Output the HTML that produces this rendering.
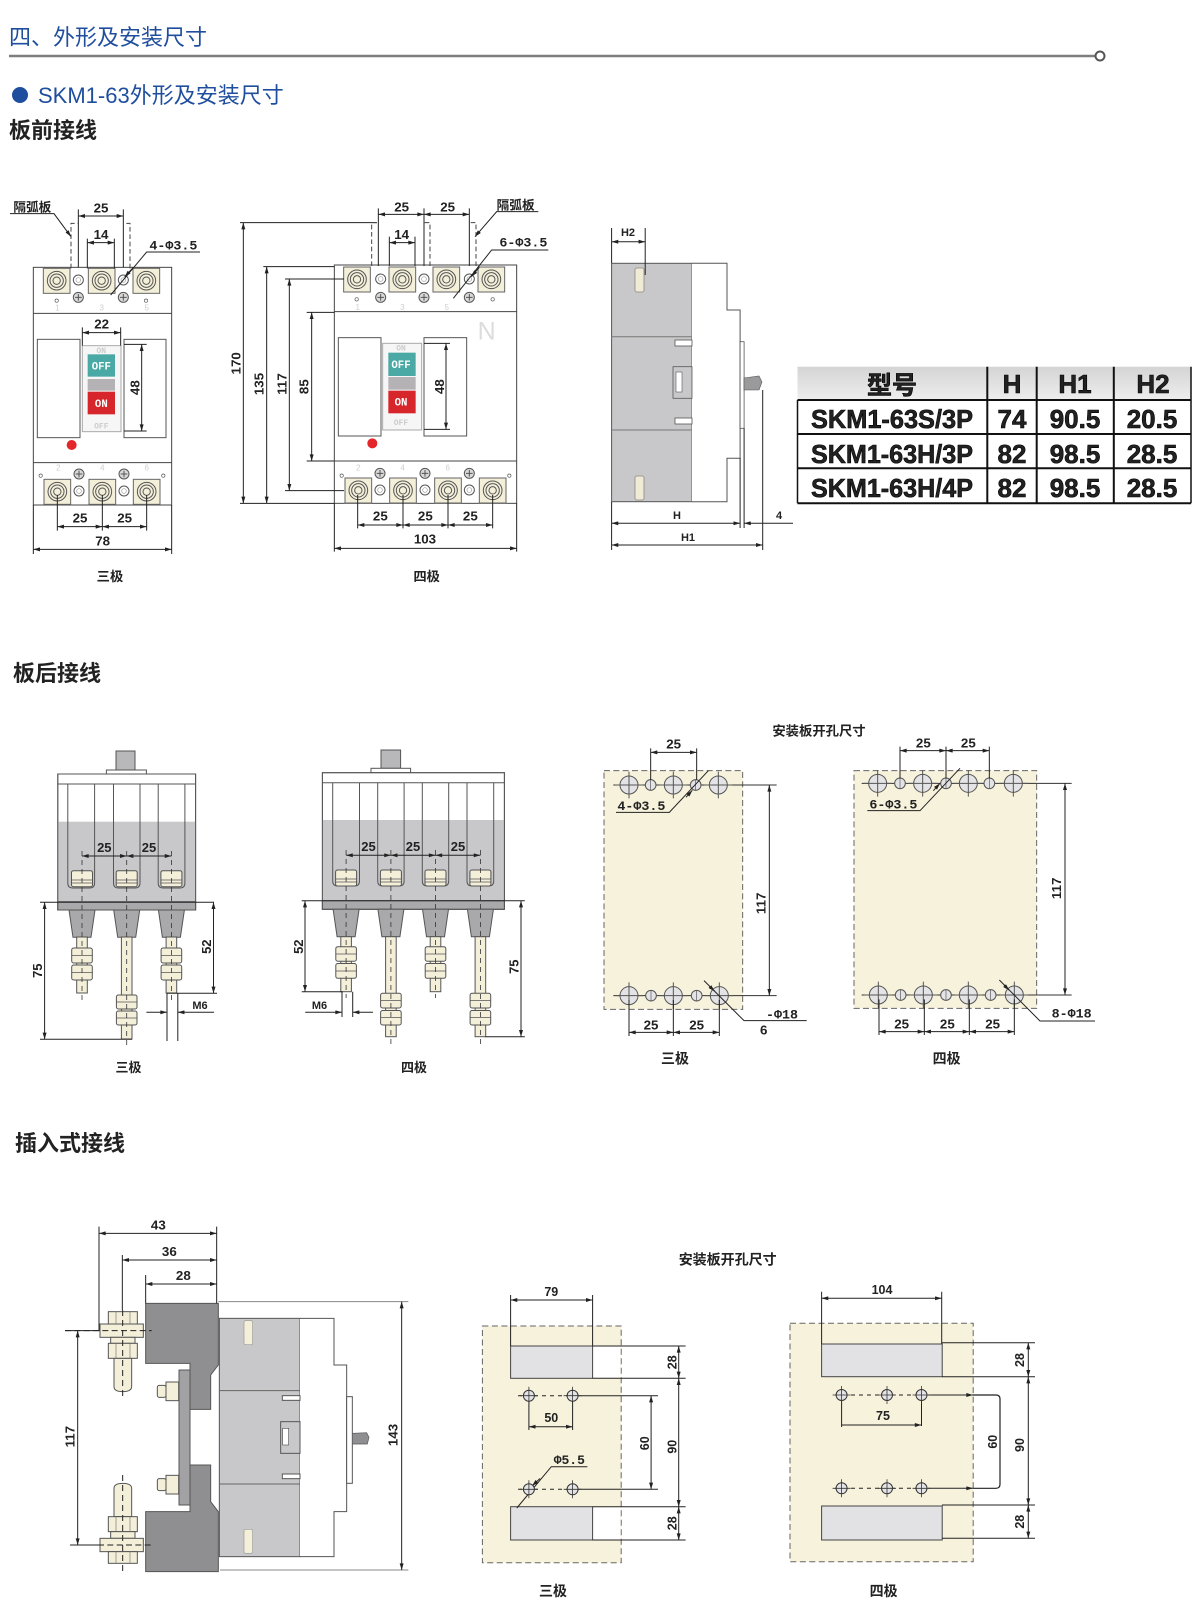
<!DOCTYPE html>
<html><head><meta charset="utf-8">
<style>
html,body{margin:0;padding:0;background:#fff;}
body{width:1200px;height:1619px;overflow:hidden;}
svg{display:block;}
.l1{stroke:#222;stroke-width:1;fill:none}
.l3{stroke:#222;stroke-width:3;fill:none}
.m1{marker-start:url(#a);marker-end:url(#a)}
.e1{marker-end:url(#a)}
.s1{marker-start:url(#a)}
.m3{marker-start:url(#b);marker-end:url(#b)}
.e3{marker-end:url(#b)}
.s3{marker-start:url(#b)}
.tx{font-family:"Liberation Sans",Arial,sans-serif;font-weight:bold;fill:#222}
.cj{font-family:"Liberation Sans","Noto Sans CJK SC","WenQuanYi Zen Hei",sans-serif;font-weight:bold;fill:#222}
.mo{font-family:"Liberation Mono","DejaVu Sans Mono",monospace;font-weight:bold;fill:#222}
.cr{fill:#f3efd9;stroke:#555}
</style></head>
<body>
<svg width="1200" height="1619" viewBox="0 0 1200 1619" xmlns="http://www.w3.org/2000/svg">
<defs>
<marker id="a" viewBox="0 0 10 6" refX="10" refY="3" markerWidth="7" markerHeight="4" orient="auto-start-reverse" markerUnits="userSpaceOnUse"><path d="M0,0L10,3L0,6z" fill="#222"/></marker>
<marker id="b" viewBox="0 0 10 6" refX="10" refY="3" markerWidth="21" markerHeight="12" orient="auto-start-reverse" markerUnits="userSpaceOnUse"><path d="M0,0L10,3L0,6z" fill="#222"/></marker>
<linearGradient id="hg" x1="0" y1="0" x2="0" y2="1"><stop offset="0" stop-color="#d4d4d4"/><stop offset="1" stop-color="#eeeeee"/></linearGradient>
<g id="tm"><rect x="-40" y="-37" width="80" height="75" fill="#f3efd9" stroke="#666" stroke-width="3"/><circle r="28" fill="none" stroke="#555" stroke-width="3"/><circle r="20" fill="none" stroke="#555" stroke-width="3"/><circle r="11" fill="#f3efd9" stroke="#555" stroke-width="3"/></g>
<g id="sh"><circle r="15" fill="#fff" stroke="#555" stroke-width="3"/><circle r="7" fill="none" stroke="#999" stroke-width="2"/></g>
<g id="cx"><circle r="15" fill="#d9d9d9" stroke="#555" stroke-width="3"/><path d="M-10,0H10M0,-10V10" stroke="#555" stroke-width="3"/></g>
<g id="hb"><circle r="27" fill="#e4e4e6" stroke="#555" stroke-width="3"/><path d="M-42,0H42M0,-40V40" stroke="#555" stroke-width="3"/></g>
<g id="hs"><circle r="16" fill="#e4e4e6" stroke="#555" stroke-width="3"/><path d="M0,-16V16" stroke="#555" stroke-width="2"/></g>
<g id="hp"><circle r="5.5" fill="#e4e4e6" stroke="#333" stroke-width="1"/><path d="M-9,0H9M0,-9V9" stroke="#333" stroke-width="0.8"/></g>
</defs>

<!-- HEADER -->
<text x="9" y="45" font-size="22" fill="#1f4e9e" font-family="'Liberation Sans','Noto Sans CJK SC',sans-serif">四、外形及安装尺寸</text>
<line x1="9" y1="56" x2="1096" y2="56" stroke="#7e7e7e" stroke-width="2.5"/>
<circle cx="1100" cy="56" r="4.5" fill="#fff" stroke="#555" stroke-width="2"/>
<circle cx="20" cy="95" r="8" fill="#1f4e9e"/>
<text x="38" y="103" font-size="22" fill="#1f4e9e" font-family="'Liberation Sans','Noto Sans CJK SC',sans-serif">SKM1-63外形及安装尺寸</text>
<text x="9" y="138" font-size="22" class="cj" fill="#111">板前接线</text>

<!-- A: 3P FRONT -->
<g transform="translate(0,180) scale(0.33333)">
<rect x="100" y="262" width="415" height="713" fill="#fff" stroke="#444" stroke-width="3"/>
<path d="M100,400H515M100,848H515" stroke="#444" stroke-width="3"/>
<use href="#tm" x="170" y="302"/><use href="#tm" x="305" y="302"/><use href="#tm" x="439" y="302"/>
<use href="#sh" x="235" y="300"/><use href="#sh" x="370" y="300"/>
<use href="#cx" x="235" y="352"/><use href="#cx" x="370" y="352"/>
<circle cx="170" cy="362" r="5" fill="#fff" stroke="#555" stroke-width="2"/><circle cx="438" cy="362" r="5" fill="#fff" stroke="#555" stroke-width="2"/>
<g font-size="24" fill="#cfcfcf" text-anchor="middle" font-family="Liberation Sans"><text x="172" y="392">1</text><text x="305" y="392">3</text><text x="440" y="392">5</text><text x="175" y="872">2</text><text x="307" y="872">4</text><text x="440" y="872">6</text></g>
<rect x="112" y="478" width="128" height="295" fill="#fff" stroke="#555" stroke-width="3"/>
<rect x="372" y="478" width="126" height="295" fill="#fff" stroke="#555" stroke-width="3"/>
<g transform="translate(247,497)">
<rect width="116" height="258" fill="#f6f6f6" stroke="#aaa" stroke-width="3"/>
<rect x="16" y="26" width="82" height="67" fill="#4aa9a5"/>
<rect x="16" y="100" width="82" height="35" fill="#b4b2b4"/>
<rect x="16" y="138" width="82" height="68" fill="#d7262b"/>
<g font-family="Liberation Mono" font-weight="bold" text-anchor="middle"><text x="57" y="72" font-size="32" fill="#fff">OFF</text><text x="57" y="184" font-size="32" fill="#fff">ON</text><text x="57" y="22" font-size="24" fill="#ccc">ON</text><text x="57" y="248" font-size="24" fill="#ccc">OFF</text></g>
</g>
<circle cx="215" cy="795" r="15" fill="#e3262a"/>
<use href="#cx" x="237" y="882"/><use href="#cx" x="372" y="882"/>
<circle cx="122" cy="887" r="5" fill="#fff" stroke="#555" stroke-width="2"/><circle cx="490" cy="887" r="5" fill="#fff" stroke="#555" stroke-width="2"/>
<use href="#tm" x="172" y="935"/><use href="#tm" x="307" y="935"/><use href="#tm" x="440" y="935"/>
<use href="#sh" x="237" y="933"/><use href="#sh" x="372" y="933"/>
<g class="l3">
<path d="M247,442V497M362,442V497M372,493H440M372,753H440M172,945V1052M307,945V1052M440,945V1052M100,975V1122M515,975V1122M235,88V262M370,88V262M262,176V265M343,176V265"/>
<path d="M213,265V130H233M390,265V130H372" stroke-dasharray="14,8" stroke="#444"/>
<line x1="247" y1="458" x2="362" y2="458" class="m3"/>
<line x1="425" y1="493" x2="425" y2="753" class="m3"/>
<line x1="172" y1="1040" x2="307" y2="1040" class="m3"/>
<line x1="307" y1="1040" x2="440" y2="1040" class="m3"/>
<line x1="100" y1="1108" x2="515" y2="1108" class="m3"/>
<line x1="235" y1="108" x2="370" y2="108" class="m3"/>
<line x1="262" y1="188" x2="343" y2="188" class="m3"/>
<path d="M30,101H162L213,170" class="e3"/>
<path d="M600,216H440L332,345"/>
<path d="M400,262L374,291" class="e3"/>
</g>
<g class="tx" font-size="40" text-anchor="middle">
<text x="305" y="446">22</text>
<text transform="translate(419,623) rotate(-90)">48</text>
<text x="240" y="1028">25</text><text x="374" y="1028">25</text>
<text x="308" y="1096">78</text>
<text x="303" y="97">25</text>
<text x="303" y="177">14</text>
</g>
<text class="cj" x="40" y="95" font-size="38">隔弧板</text>
<text class="mo" x="448" y="208" font-size="40">4-Φ3.5</text>
<text class="cj" x="330" y="1203" font-size="40" text-anchor="middle">三极</text>
</g>

<!-- B: 4P FRONT -->
<g transform="translate(220,180) scale(0.33333)">
<rect x="343" y="255" width="547" height="715" fill="#fff" stroke="#444" stroke-width="3"/>
<path d="M343,395H890M343,843H890" stroke="#444" stroke-width="3"/>
<use href="#tm" x="411" y="298"/><use href="#tm" x="547" y="298"/><use href="#tm" x="679" y="298"/><use href="#tm" x="814" y="298"/>
<use href="#sh" x="482" y="297"/><use href="#sh" x="612" y="297"/><use href="#sh" x="748" y="297"/>
<use href="#cx" x="482" y="352"/><use href="#cx" x="612" y="352"/><use href="#cx" x="748" y="352"/>
<circle cx="410" cy="358" r="5" fill="#fff" stroke="#555" stroke-width="2"/><circle cx="818" cy="358" r="5" fill="#fff" stroke="#555" stroke-width="2"/>
<g font-size="24" fill="#cfcfcf" text-anchor="middle" font-family="Liberation Sans"><text x="413" y="390">1</text><text x="547" y="390">3</text><text x="680" y="390">5</text><text x="415" y="872">2</text><text x="548" y="872">4</text><text x="683" y="872">6</text></g>
<text x="800" y="478" font-size="75" fill="#dcdcdc" text-anchor="middle" font-family="Liberation Sans">N</text>
<rect x="355" y="473" width="128" height="295" fill="#fff" stroke="#555" stroke-width="3"/>
<rect x="612" y="473" width="128" height="295" fill="#fff" stroke="#555" stroke-width="3"/>
<g transform="translate(488,490)">
<rect width="117" height="260" fill="#f6f6f6" stroke="#aaa" stroke-width="3"/>
<rect x="17" y="28" width="82" height="70" fill="#4aa9a5"/>
<rect x="17" y="101" width="82" height="38" fill="#b4b2b4"/>
<rect x="17" y="142" width="82" height="68" fill="#d7262b"/>
<g font-family="Liberation Mono" font-weight="bold" text-anchor="middle"><text x="55" y="74" font-size="32" fill="#fff">OFF</text><text x="55" y="187" font-size="32" fill="#fff">ON</text><text x="55" y="22" font-size="24" fill="#ccc">ON</text><text x="55" y="245" font-size="24" fill="#ccc">OFF</text></g>
</g>
<circle cx="457" cy="790" r="15" fill="#e3262a"/>
<use href="#cx" x="480" y="880"/><use href="#cx" x="615" y="880"/><use href="#cx" x="748" y="880"/>
<circle cx="365" cy="887" r="5" fill="#fff" stroke="#555" stroke-width="2"/><circle cx="868" cy="887" r="5" fill="#fff" stroke="#555" stroke-width="2"/>
<use href="#tm" x="415" y="931"/><use href="#tm" x="549" y="931"/><use href="#tm" x="684" y="931"/><use href="#tm" x="818" y="931"/>
<use href="#sh" x="480" y="930"/><use href="#sh" x="615" y="930"/><use href="#sh" x="748" y="930"/>
<g class="l3">
<path d="M612,490H690M612,748H690M413,945V1045M549,945V1045M684,945V1045M818,945V1045M343,970V1115M890,970V1115M60,128H470M60,970H343M130,260H343M195,297H372M195,932H372M260,397H343M260,843H343M475,85V258M612,85V258M748,85V258M508,170V258M585,170V258"/>
<path d="M455,258V128H473M630,258V128H614M768,258V128H750" stroke-dasharray="14,8" stroke="#444"/>
<line x1="678" y1="490" x2="678" y2="748" class="m3"/>
<line x1="413" y1="1035" x2="549" y2="1035" class="m3"/>
<line x1="549" y1="1035" x2="684" y2="1035" class="m3"/>
<line x1="684" y1="1035" x2="818" y2="1035" class="m3"/>
<line x1="343" y1="1105" x2="890" y2="1105" class="m3"/>
<line x1="70" y1="128" x2="70" y2="970" class="m3"/>
<line x1="140" y1="260" x2="140" y2="970" class="m3"/>
<line x1="208" y1="297" x2="208" y2="932" class="m3"/>
<line x1="275" y1="397" x2="275" y2="843" class="m3"/>
<line x1="475" y1="103" x2="612" y2="103" class="m3"/>
<line x1="612" y1="103" x2="748" y2="103" class="m3"/>
<line x1="508" y1="188" x2="585" y2="188" class="m3"/>
<path d="M955,95H830L765,170" class="e3"/>
<path d="M985,210H815L700,355"/>
<path d="M778,262L754,290" class="e3"/>
</g>
<g class="tx" font-size="40" text-anchor="middle">
<text transform="translate(672,620) rotate(-90)">48</text>
<text x="481" y="1022">25</text><text x="616" y="1022">25</text><text x="751" y="1022">25</text>
<text x="615" y="1090">103</text>
<text transform="translate(62,550) rotate(-90)">170</text>
<text transform="translate(131,612) rotate(-90)">135</text>
<text transform="translate(199,612) rotate(-90)">117</text>
<text transform="translate(266,620) rotate(-90)">85</text>
<text x="545" y="94">25</text><text x="683" y="94">25</text>
<text x="545" y="177">14</text>
</g>
<text class="cj" x="830" y="88" font-size="38">隔弧板</text>
<text class="mo" x="838" y="200" font-size="40">6-Φ3.5</text>
<text class="cj" x="620" y="1203" font-size="40" text-anchor="middle">四极</text>
</g>

<!-- C: SIDE VIEW -->
<g>
<rect x="611.6" y="263.3" width="80.3" height="238.4" fill="#c8c8ca" stroke="#555" stroke-width="1"/>
<path d="M611.6,336.7H691.9M611.6,430H691.9" stroke="#777" stroke-width="1"/>
<path d="M691.9,263.3H727V310H740.1V458.3H727V501.7H691.9" fill="#fff" stroke="#555" stroke-width="1"/>
<rect x="740.1" y="341.7" width="4" height="86.6" fill="#fff" stroke="#555" stroke-width="0.8"/>
<path d="M744,378L759,376L762,382L759,390L744,390Z" fill="#9a9a9c" stroke="#555" stroke-width="0.6"/>
<rect x="675" y="340" width="17" height="6" fill="#fff" stroke="#555" stroke-width="0.8"/>
<rect x="675" y="418" width="17" height="6" fill="#fff" stroke="#555" stroke-width="0.8"/>
<rect x="673" y="366.7" width="19" height="31.6" fill="#c8c8ca" stroke="#555" stroke-width="0.8"/>
<rect x="676" y="372" width="6" height="20" fill="#fff" stroke="#555" stroke-width="0.6"/>
<rect x="635" y="268" width="9" height="24" rx="2" fill="#f0ebd5" stroke="#888" stroke-width="0.8"/>
<rect x="635" y="476" width="9" height="24" rx="2" fill="#f0ebd5" stroke="#888" stroke-width="0.8"/>
<g class="l1">
<path d="M611.6,228V263M645.2,228V275M611.6,502V550M740.1,458V528M744.1,428V528M762.7,390V550"/>
<line x1="611.6" y1="241.7" x2="645.2" y2="241.7" class="m1"/>
<line x1="611.6" y1="523.3" x2="740.1" y2="523.3" class="m1"/>
<line x1="744.1" y1="523.3" x2="793" y2="523.3" class="s1"/>
<line x1="611.6" y1="545" x2="762.7" y2="545" class="m1"/>
</g>
<g class="tx" text-anchor="middle" font-size="11">
<text x="628" y="236">H2</text>
<text x="677" y="519">H</text>
<text x="779" y="519">4</text>
<text x="688" y="541">H1</text>
</g>
</g>

<!-- TABLE -->
<g>
<rect x="797.5" y="366.7" width="393.5" height="33.3" fill="url(#hg)"/>
<rect x="797.5" y="400" width="393.5" height="103.3" fill="#fff"/>
<g stroke="#111" stroke-width="2" fill="none">
<path d="M797.5,400H1191M797.5,434H1191M797.5,468.3H1191M797.5,503.3H1191"/>
<path d="M987.3,366.7V503.3M1036.7,366.7V503.3M1113.8,366.7V503.3"/>
<path d="M797.5,400V503.3M1191,366.7V503.3" stroke-width="1.5"/>
</g>
<g class="tx" fill="#000" stroke="#000" stroke-width="0.6" font-size="26">
<text x="892" y="394" text-anchor="middle" class="cj" font-size="25" stroke="#000" stroke-width="0.6">型号</text>
<text x="1012" y="393" text-anchor="middle">H</text>
<text x="1075" y="393" text-anchor="middle">H1</text>
<text x="1153" y="393" text-anchor="middle">H2</text>
<text x="811" y="428" textLength="162" lengthAdjust="spacingAndGlyphs">SKM1-63S/3P</text>
<text x="811" y="463" textLength="162" lengthAdjust="spacingAndGlyphs">SKM1-63H/3P</text>
<text x="811" y="497" textLength="162" lengthAdjust="spacingAndGlyphs">SKM1-63H/4P</text>
<text x="1012" y="428" text-anchor="middle">74</text>
<text x="1012" y="463" text-anchor="middle">82</text>
<text x="1012" y="497" text-anchor="middle">82</text>
<text x="1075" y="428" text-anchor="middle">90.5</text>
<text x="1075" y="463" text-anchor="middle">98.5</text>
<text x="1075" y="497" text-anchor="middle">98.5</text>
<text x="1152" y="428" text-anchor="middle">20.5</text>
<text x="1152" y="463" text-anchor="middle">28.5</text>
<text x="1152" y="497" text-anchor="middle">28.5</text>
</g>
</g>

<!-- D heading -->
<text x="13" y="681" font-size="22" class="cj" fill="#111">板后接线</text>

<!-- E: REAR 3P -->
<g stroke="#555" stroke-width="1">
<rect x="116" y="751" width="19" height="19" fill="#b8b8ba"/>
<rect x="106.4" y="770" width="40" height="4" fill="#fff"/>
<rect x="57.8" y="774" width="137.8" height="136" fill="#fff"/>
<rect x="57.8" y="821.7" width="137.8" height="80" fill="#c8c8ca" stroke="none"/>
<rect x="57.8" y="901.7" width="137.8" height="8.3" fill="#a9a9ab"/>
<rect x="57.8" y="774" width="137.8" height="136" fill="none"/>
<path d="M57.8,784H195.6" fill="none"/>
<path d="M67.8,784V883Q67.8,888 72.8,888H89.6Q94.6,888 94.6,883V784M113.5,784V883Q113.5,888 118.5,888H135Q140,888 140,883V784M158.2,784V883Q158.2,888 163.2,888H179.9Q184.9,888 184.9,883V784" fill="none"/>
<rect x="71.5" y="870.7" width="21" height="16" rx="2" fill="#f3efd9"/>
<rect x="116.2" y="870.7" width="21" height="16" rx="2" fill="#f3efd9"/>
<rect x="160.9" y="870.7" width="21" height="16" rx="2" fill="#f3efd9"/>
<path d="M71.5,880H92.5M71.5,883H92.5M116.2,880H137.2M116.2,883H137.2M160.9,880H181.9M160.9,883H181.9" fill="none" stroke-width="0.7"/>
<path d="M69,910H95L91,937.3H73Z M113.7,910H139.7L135.7,937.3H117.7Z M158.4,910H184.4L180.4,937.3H162.4Z" fill="#a9a9ab"/>
<rect x="76.7" y="937" width="10.6" height="56" fill="#f3efd9"/>
<rect x="71.7" y="948" width="20.6" height="15" rx="2" fill="#f3efd9"/>
<rect x="71.7" y="965" width="20.6" height="15" rx="2" fill="#f3efd9"/>
<rect x="121.4" y="937" width="10.6" height="102" fill="#f3efd9"/>
<rect x="116.4" y="995" width="20.6" height="14" rx="2" fill="#f3efd9"/>
<rect x="116.4" y="1011" width="20.6" height="14" rx="2" fill="#f3efd9"/>
<rect x="166.1" y="937" width="10.6" height="56" fill="#f3efd9"/>
<rect x="161.1" y="948" width="20.6" height="15" rx="2" fill="#f3efd9"/>
<rect x="161.1" y="965" width="20.6" height="15" rx="2" fill="#f3efd9"/>
<path d="M71.7,955.5H92.3M71.7,972.5H92.3M116.4,1002H137M116.4,1018H137M161.1,955.5H181.7M161.1,972.5H181.7" fill="none" stroke-width="0.7"/>
</g>
<g class="l1">
<path d="M82,851V1000M126.7,851V1048M171.4,851V1000" stroke-dasharray="5,4" stroke="#333" stroke-width="0.8"/>
<path d="M40,902.3H214M40,1039.3H132M167,993.3H217M167,993V1041M177.8,993V1041"/>
<line x1="82" y1="856" x2="126.7" y2="856" class="m1"/>
<line x1="126.7" y1="856" x2="171.4" y2="856" class="m1"/>
<line x1="44.6" y1="902.3" x2="44.6" y2="1039.3" class="m1"/>
<line x1="213.5" y1="902.3" x2="213.5" y2="993.3" class="m1"/>
<line x1="146.4" y1="1012.3" x2="167" y2="1012.3" class="e1"/>
<line x1="177.8" y1="1012.3" x2="214" y2="1012.3" class="s1"/>
</g>
<g class="tx" font-size="13" text-anchor="middle">
<text x="104.3" y="852">25</text><text x="149" y="852">25</text>
<text transform="translate(42,970.7) rotate(-90)">75</text>
<text transform="translate(211,946.7) rotate(-90)">52</text>
<text x="200" y="1009" font-size="11">M6</text>
</g>
<text class="cj" x="128.5" y="1072" font-size="13" text-anchor="middle">三极</text>

<!-- E: REAR 4P -->
<g stroke="#555" stroke-width="1">
<rect x="381" y="750" width="19.6" height="18.3" fill="#b8b8ba"/>
<rect x="371" y="768.3" width="39.6" height="4.4" fill="#fff"/>
<rect x="322.4" y="772.7" width="182" height="136.6" fill="#fff"/>
<rect x="322.4" y="820" width="182" height="80.7" fill="#c8c8ca" stroke="none"/>
<rect x="322.4" y="900.7" width="182" height="8.6" fill="#a9a9ab"/>
<rect x="322.4" y="772.7" width="182" height="136.6" fill="none"/>
<path d="M322.4,782.7H504.4" fill="none"/>
<path d="M332.7,782.7V881Q332.7,886 337.7,886H354.5Q359.5,886 359.5,881V782.7M377.7,782.7V881Q377.7,886 382.7,886H399.1Q404.1,886 404.1,881V782.7M422.3,782.7V881Q422.3,886 427.3,886H443.7Q448.7,886 448.7,881V782.7M467,782.7V881Q467,886 472,886H488.7Q493.7,886 493.7,881V782.7" fill="none"/>
<rect x="335.6" y="870" width="21" height="16" rx="2" fill="#f3efd9"/>
<rect x="380.4" y="870" width="21" height="16" rx="2" fill="#f3efd9"/>
<rect x="425" y="870" width="21" height="16" rx="2" fill="#f3efd9"/>
<rect x="469.9" y="870" width="21" height="16" rx="2" fill="#f3efd9"/>
<path d="M335.6,879H356.6M335.6,882H356.6M380.4,879H401.4M380.4,882H401.4M425,879H446M425,882H446M469.9,879H490.9M469.9,882H490.9" fill="none" stroke-width="0.7"/>
<path d="M333.1,909.3H359.1L355.1,936.7H337.1Z M377.9,909.3H403.9L399.9,936.7H381.9Z M422.5,909.3H448.5L444.5,936.7H426.5Z M467.4,909.3H493.4L489.4,936.7H471.4Z" fill="#a9a9ab"/>
<rect x="340.8" y="936.7" width="10.6" height="55" fill="#f3efd9"/>
<rect x="335.8" y="946.7" width="20.6" height="14.5" rx="2" fill="#f3efd9"/>
<rect x="335.8" y="963.5" width="20.6" height="14.8" rx="2" fill="#f3efd9"/>
<rect x="385.6" y="936.7" width="10.6" height="100" fill="#f3efd9"/>
<rect x="380.6" y="993.3" width="20.6" height="14.7" rx="2" fill="#f3efd9"/>
<rect x="380.6" y="1010.5" width="20.6" height="14.5" rx="2" fill="#f3efd9"/>
<rect x="430.2" y="936.7" width="10.6" height="55" fill="#f3efd9"/>
<rect x="425.2" y="946.7" width="20.6" height="14.5" rx="2" fill="#f3efd9"/>
<rect x="425.2" y="963.5" width="20.6" height="14.8" rx="2" fill="#f3efd9"/>
<rect x="475.1" y="936.7" width="10.6" height="100" fill="#f3efd9"/>
<rect x="470.1" y="993.3" width="20.6" height="14.7" rx="2" fill="#f3efd9"/>
<rect x="470.1" y="1010.5" width="20.6" height="14.5" rx="2" fill="#f3efd9"/>
<path d="M335.8,954H356.4M335.8,971H356.4M380.6,1000.5H401.2M380.6,1017.5H401.2M425.2,954H445.8M425.2,971H445.8M470.1,1000.5H490.7M470.1,1017.5H490.7" fill="none" stroke-width="0.7"/>
</g>
<g class="l1">
<path d="M346.1,850V998M390.9,850V1048M435.5,850V998M480.4,850V1048" stroke-dasharray="5,4" stroke="#333" stroke-width="0.8"/>
<path d="M301.7,900.7H524.8M301.7,991.7H342.7M485.5,1036.7H524.8M342,991.7V1017M352.7,991.7V1017"/>
<line x1="346.1" y1="855.3" x2="390.9" y2="855.3" class="m1"/>
<line x1="390.9" y1="855.3" x2="435.5" y2="855.3" class="m1"/>
<line x1="435.5" y1="855.3" x2="480.4" y2="855.3" class="m1"/>
<line x1="305" y1="900.7" x2="305" y2="991.7" class="m1"/>
<line x1="521" y1="900.7" x2="521" y2="1036.7" class="m1"/>
<line x1="305.2" y1="1012.3" x2="342" y2="1012.3" class="e1"/>
<line x1="352.7" y1="1012.3" x2="373" y2="1012.3" class="s1"/>
</g>
<g class="tx" font-size="13" text-anchor="middle">
<text x="368.5" y="851">25</text><text x="413" y="851">25</text><text x="458" y="851">25</text>
<text transform="translate(303,946.7) rotate(-90)">52</text>
<text transform="translate(518.5,966.7) rotate(-90)">75</text>
<text x="319.5" y="1009" font-size="11">M6</text>
</g>
<text class="cj" x="414" y="1072" font-size="13" text-anchor="middle">四极</text>

<!-- F: HOLE PATTERNS -->
<g transform="translate(580,700) scale(0.33333)">
<text class="cj" x="717" y="106" font-size="40" text-anchor="middle">安装板开孔尺寸</text>
<rect x="72" y="212" width="416" height="716" fill="#f7f2dc" stroke="#666" stroke-width="3" stroke-dasharray="18,10"/>
<path d="M100,255H590M100,887H590" stroke="#333" stroke-width="3"/>
<use href="#hb" x="147" y="255"/><use href="#hb" x="280" y="255"/><use href="#hb" x="415" y="255"/>
<use href="#hs" x="212" y="255"/><use href="#hs" x="347" y="255"/>
<use href="#hb" x="147" y="887"/><use href="#hb" x="280" y="887"/><use href="#hb" x="418" y="887"/>
<use href="#hs" x="213" y="887"/><use href="#hs" x="350" y="887"/>
<rect x="822" y="212" width="548" height="713" fill="#f7f2dc" stroke="#666" stroke-width="3" stroke-dasharray="18,10"/>
<path d="M845,250H1475M845,885H1475" stroke="#333" stroke-width="3"/>
<use href="#hb" x="893" y="250"/><use href="#hb" x="1028" y="250"/><use href="#hb" x="1165" y="250"/><use href="#hb" x="1300" y="250"/>
<use href="#hs" x="960" y="250"/><use href="#hs" x="1098" y="250"/><use href="#hs" x="1228" y="250"/>
<use href="#hb" x="895" y="885"/><use href="#hb" x="1030" y="885"/><use href="#hb" x="1165" y="885"/><use href="#hb" x="1303" y="885"/>
<use href="#hs" x="962" y="885"/><use href="#hs" x="1098" y="885"/><use href="#hs" x="1232" y="885"/>
<g class="l3">
<path d="M212,145V240M350,145V240M147,900V1008M280,900V1008M418,900V1008"/>
<line x1="212" y1="157" x2="350" y2="157" class="m3"/>
<line x1="568" y1="255" x2="568" y2="887" class="m3"/>
<line x1="147" y1="997" x2="280" y2="997" class="m3"/>
<line x1="280" y1="997" x2="418" y2="997" class="m3"/>
<path d="M108,337H268L385,212"/>
<path d="M318,292L337,271" class="e3"/>
<path d="M372,842L492,962H680"/>
<path d="M388,858L404,874" class="e3"/>
<path d="M960,140V235M1098,140V235M1228,140V235M897,898V1005M1033,898V1005M1168,898V1005M1303,898V1005"/>
<line x1="960" y1="152" x2="1098" y2="152" class="m3"/>
<line x1="1098" y1="152" x2="1228" y2="152" class="m3"/>
<line x1="1455" y1="250" x2="1455" y2="885" class="m3"/>
<line x1="897" y1="995" x2="1033" y2="995" class="m3"/>
<line x1="1033" y1="995" x2="1168" y2="995" class="m3"/>
<line x1="1168" y1="995" x2="1303" y2="995" class="m3"/>
<path d="M862,332H1020L1140,205"/>
<path d="M1060,272L1080,250" class="e3"/>
<path d="M1258,840L1380,963H1545"/>
<path d="M1272,855L1288,871" class="e3"/>
</g>
<g class="tx" font-size="40" text-anchor="middle">
<text x="281" y="146">25</text>
<text transform="translate(557,610) rotate(-90)">117</text>
<text x="213" y="988">25</text><text x="350" y="988">25</text>
<text x="1030" y="142">25</text><text x="1165" y="142">25</text>
<text transform="translate(1443,565) rotate(-90)">117</text>
<text x="965" y="985">25</text><text x="1102" y="985">25</text><text x="1238" y="985">25</text>
</g>
<text class="mo" x="112" y="330" font-size="40">4-Φ3.5</text>
<text class="mo" x="558" y="955" font-size="40">-Φ18</text>
<text class="tx" x="540" y="1003" font-size="40">6</text>
<text class="mo" x="868" y="325" font-size="40">6-Φ3.5</text>
<text class="mo" x="1415" y="952" font-size="40">8-Φ18</text>
<text class="cj" x="285" y="1090" font-size="42" text-anchor="middle">三极</text>
<text class="cj" x="1100" y="1090" font-size="42" text-anchor="middle">四极</text>
</g>

<!-- G heading -->
<text x="15" y="1151" font-size="22" class="cj" fill="#111">插入式接线</text>

<!-- H: PLUG-IN SIDE VIEW -->
<g transform="translate(40,1200) scale(0.33333)">
<path d="M317,310H535V495L512,525V628H450V490H317Z" fill="#8f8f91" stroke="#555" stroke-width="3"/>
<path d="M317,935H450V795H512V905L535,935V1115H317Z" fill="#8f8f91" stroke="#555" stroke-width="3"/>
<rect x="417" y="510" width="33" height="405" fill="#a2a2a4" stroke="#555" stroke-width="3"/>
<rect x="378" y="546" width="38" height="56" fill="#f3efd9" stroke="#555" stroke-width="3"/>
<rect x="352" y="556" width="26" height="36" rx="6" fill="#f3efd9" stroke="#555" stroke-width="3"/>
<rect x="378" y="826" width="38" height="56" fill="#f3efd9" stroke="#555" stroke-width="3"/>
<rect x="352" y="836" width="26" height="36" rx="6" fill="#f3efd9" stroke="#555" stroke-width="3"/>
<rect x="538" y="355" width="242" height="715" fill="#c8c8ca" stroke="#555" stroke-width="3"/>
<path d="M538,572H780M538,852H780" stroke="#666" stroke-width="3"/>
<path d="M780,355H882V495H920V935H882V1070H780" fill="#fff" stroke="#555" stroke-width="3"/>
<rect x="920" y="590" width="17" height="260" fill="#fff" stroke="#555" stroke-width="3"/>
<path d="M937,700L980,698L987,712L982,732L937,732Z" fill="#8f8f91" stroke="#555" stroke-width="2"/>
<rect x="727" y="587" width="53" height="14" fill="#fff" stroke="#555" stroke-width="3"/>
<rect x="727" y="822" width="53" height="14" fill="#fff" stroke="#555" stroke-width="3"/>
<rect x="722" y="665" width="58" height="95" fill="#c8c8ca" stroke="#555" stroke-width="3"/>
<rect x="728" y="685" width="18" height="50" fill="#fff" stroke="#555" stroke-width="2"/>
<rect x="612" y="362" width="26" height="72" rx="5" fill="#f3efd9" stroke="#999" stroke-width="2"/>
<rect x="612" y="988" width="26" height="72" rx="5" fill="#f3efd9" stroke="#999" stroke-width="2"/>
<g fill="#f3efd9" stroke="#555" stroke-width="3">
<rect x="205" y="335" width="87" height="37"/>
<rect x="180" y="372" width="130" height="40"/>
<rect x="212" y="412" width="73" height="18"/>
<rect x="205" y="430" width="87" height="45"/>
<path d="M222,475V560Q222,575 248,575Q275,575 275,560V475Z"/>
<path d="M222,950V865Q222,850 248,850Q275,850 275,865V950Z"/>
<rect x="205" y="950" width="87" height="45"/>
<rect x="212" y="995" width="73" height="20"/>
<rect x="180" y="1015" width="130" height="40"/>
<rect x="205" y="1055" width="87" height="35"/>
</g>
<path d="M228,335V372M270,335V372M228,430V475M270,430V475M228,950V995M270,950V995M228,1055V1090M270,1055V1090" stroke="#777" stroke-width="2"/>
<g class="l3">
<path d="M248,330V600M248,825V1120" stroke-dasharray="18,12"/>
<path d="M75,392H335M90,1035H335" stroke-dasharray="18,10"/>
<path d="M177,80V390M530,80V310M247,165V330M317,225V310M75,392H180M90,1035H180"/>
<path d="M535,305H1105M540,1110H1105" stroke="#888"/>
<line x1="177" y1="100" x2="530" y2="100" class="m3"/>
<line x1="247" y1="180" x2="530" y2="180" class="m3"/>
<line x1="317" y1="252" x2="530" y2="252" class="m3"/>
<line x1="113" y1="392" x2="113" y2="1035" class="m3"/>
<line x1="1085" y1="305" x2="1085" y2="1110" class="m3"/>
</g>
<g class="tx" font-size="40" text-anchor="middle">
<text x="355" y="88">43</text>
<text x="388" y="168">36</text>
<text x="430" y="240">28</text>
<text transform="translate(103,710) rotate(-90)">117</text>
<text transform="translate(1072,705) rotate(-90)">143</text>
</g>
</g>

<!-- I: PLUG-IN HOLES -->
<text class="cj" x="727.7" y="1264.5" font-size="14" text-anchor="middle">安装板开孔尺寸</text>
<rect x="482.4" y="1326" width="138.8" height="236.7" fill="#f7f2dc" stroke="#666" stroke-width="1" stroke-dasharray="6,3.5"/>
<rect x="592.6" y="1346" width="28" height="32.3" fill="#fff"/>
<rect x="592.6" y="1506.7" width="28" height="33.3" fill="#fff"/>
<rect x="510.6" y="1346" width="82" height="32.3" fill="#e2e2e4" stroke="#444" stroke-width="1"/>
<rect x="510.6" y="1506.7" width="82" height="33.3" fill="#e2e2e4" stroke="#444" stroke-width="1"/>
<rect x="790" y="1323.3" width="183.2" height="238.4" fill="#f7f2dc" stroke="#666" stroke-width="1" stroke-dasharray="6,3.5"/>
<rect x="821.6" y="1344" width="120.6" height="32.7" fill="#e2e2e4" stroke="#444" stroke-width="1"/>
<rect x="821.6" y="1506" width="120.6" height="34" fill="#e2e2e4" stroke="#444" stroke-width="1"/>
<g class="l1">
<path d="M510.6,1295V1346M592.6,1295V1346M592.6,1346H685.6M592.6,1378.3H685.6M592.6,1506.7H685.6M592.6,1540H685.6M578,1395.7H658M578,1489.3H658M528.9,1395.7V1430M572.6,1395.7V1430"/>
<path d="M518,1395.7H567M518,1489.3H567" stroke-dasharray="4,4"/>
<line x1="510.6" y1="1300" x2="592.6" y2="1300" class="m1"/>
<line x1="528.9" y1="1426.7" x2="572.6" y2="1426.7" class="m1"/>
<line x1="651.1" y1="1395.7" x2="651.1" y2="1489.3" class="m1"/>
<line x1="678.7" y1="1346" x2="678.7" y2="1378.3" class="m1"/>
<line x1="678.7" y1="1378.3" x2="678.7" y2="1506.7" class="m1"/>
<line x1="678.7" y1="1506.7" x2="678.7" y2="1540" class="m1"/>
<path d="M587.4,1466.7H551.3L516.8,1508"/>
<path d="M540,1478.5L532,1486" class="e1"/>
<path d="M821.6,1291.7V1344M941.7,1291.7V1344M942,1342.7H1035M942,1376.7H1035M942,1505H1035M942,1538.3H1035M841.6,1395V1427M921.5,1395V1426"/>
<path d="M835,1395H916M835,1488.3H916" stroke-dasharray="4,4"/>
<line x1="821.6" y1="1298.3" x2="941.7" y2="1298.3" class="m1"/>
<line x1="841.6" y1="1425" x2="921.5" y2="1425" class="e1"/>
<path d="M928,1395H973" class="e1"/>
<path d="M928,1488.3H973" class="e1"/>
<path d="M973,1395H996Q1000,1395 1000,1399V1484.3Q1000,1488.3 996,1488.3H973" stroke-width="1.2"/>
<line x1="1028.3" y1="1342.7" x2="1028.3" y2="1376.7" class="m1"/>
<line x1="1028.3" y1="1376.7" x2="1028.3" y2="1505" class="m1"/>
<line x1="1028.3" y1="1505" x2="1028.3" y2="1538.3" class="m1"/>
</g>
<use href="#hp" x="528.9" y="1395.7"/><use href="#hp" x="572.6" y="1395.7"/>
<use href="#hp" x="528.9" y="1489.3"/><use href="#hp" x="572.6" y="1489.3"/>
<use href="#hp" x="841.6" y="1395"/><use href="#hp" x="887" y="1395"/><use href="#hp" x="921.5" y="1395"/>
<use href="#hp" x="841.6" y="1488.3"/><use href="#hp" x="887" y="1488.3"/><use href="#hp" x="921.5" y="1488.3"/>
<g class="tx" font-size="12.5" text-anchor="middle">
<text x="551.3" y="1296">79</text>
<text x="551.3" y="1422">50</text>
<text transform="translate(649,1443.3) rotate(-90)">60</text>
<text transform="translate(676.5,1446.7) rotate(-90)">90</text>
<text transform="translate(676.5,1362.3) rotate(-90)">28</text>
<text transform="translate(676.5,1523.3) rotate(-90)">28</text>
<text x="882" y="1294">104</text>
<text x="883" y="1420">75</text>
<text transform="translate(997,1441.7) rotate(-90)">60</text>
<text transform="translate(1024,1360) rotate(-90)">28</text>
<text transform="translate(1024,1445) rotate(-90)">90</text>
<text transform="translate(1024,1521.7) rotate(-90)">28</text>
</g>
<text class="mo" x="553.7" y="1464" font-size="13">Φ5.5</text>
<text class="cj" x="553" y="1596" font-size="14" text-anchor="middle">三极</text>
<text class="cj" x="883.6" y="1596" font-size="14" text-anchor="middle">四极</text>
</svg>
</body></html>
